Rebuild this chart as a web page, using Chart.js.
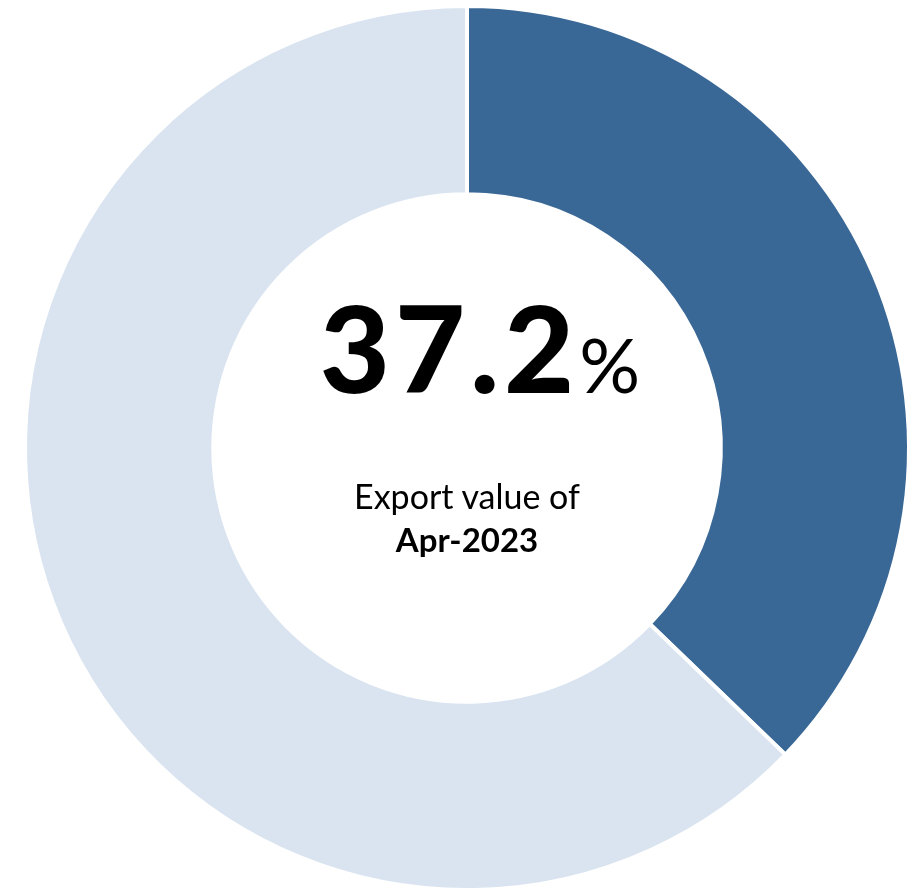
<!DOCTYPE html>
<html>
<head>
<meta charset="utf-8">
<script src="https://cdn.jsdelivr.net/npm/chart.js@4.4.1/dist/chart.umd.min.js"></script>
<style>
  html, body { margin: 0; padding: 0; background: #ffffff; overflow: hidden; }
  #wrap { position: relative; width: 918px; height: 888px; }
  #box { position: absolute; left: 0; top: 0; width: 918px; height: 896px; }
  .center { position: absolute; left: 0; width: 934px; text-align: center; font-family: Lato, "Open Sans", sans-serif; color: #000; white-space: nowrap; }
  #big { left: 13px; top: 286px; line-height: 1; }
  #big .num { font-size: 121px; font-weight: 900; letter-spacing: 5px; }
  #big .pct { font-size: 76px; font-weight: 400; letter-spacing: 0px; }
  #sub1 { top: 475px; font-size: 34px; font-weight: 400; }
  #sub2 { top: 519px; font-size: 33px; font-weight: 700; }
</style>
</head>
<body>
<div id="wrap">
  <div id="box"><canvas id="chart"></canvas></div>
  <div class="center" id="big"><span class="num"></span><span class="pct">%</span></div>
  <div class="center" id="sub1">Export value of</div>
  <div class="center" id="sub2"></div>
</div>
<script>
// Share of the month's export value, and the remainder
const categories = ["Share", "Remainder"];
const shareValues = [37.2, 62.8];
const periodLabel = "Apr-2023";
const sliceColors = ["#3A6896", "#D9E4F0"];

document.querySelector("#big .num").textContent = shareValues[0].toFixed(1);
document.getElementById("sub2").textContent = periodLabel;

new Chart(document.getElementById("chart"), {
  type: "doughnut",
  data: {
    labels: categories,
    datasets: [{
      data: shareValues,
      backgroundColor: sliceColors,
      borderColor: "#ffffff",
      borderWidth: 4,
      hoverOffset: 0
    }]
  },
  options: {
    responsive: true,
    maintainAspectRatio: false,
    animation: false,
    cutout: "57.4%",
    rotation: 0,
    layout: { padding: { left: 23, right: 7, top: 4, bottom: 4 } },
    plugins: {
      legend: { display: false },
      tooltip: { enabled: false }
    }
  }
});
</script>
</body>
</html>
